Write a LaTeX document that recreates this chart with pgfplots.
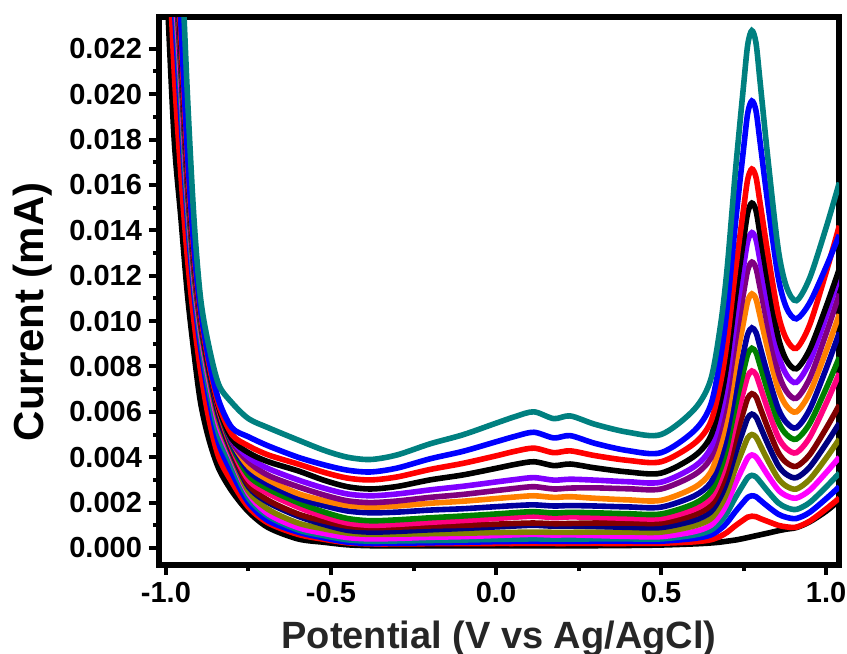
\documentclass[border=0pt]{standalone}
\usepackage{pgfplots}
\pgfplotsset{compat=1.18}
\usepackage{pgfplotstable}
\usepackage{fontspec}
\setmainfont{Liberation Sans}

\definecolor{cteal}{RGB}{0,128,128}
\definecolor{cred}{RGB}{255,0,0}
\definecolor{cblue}{RGB}{0,0,255}
\definecolor{cmag}{RGB}{255,0,255}
\definecolor{colive}{RGB}{128,128,0}
\definecolor{cnavy}{RGB}{0,0,128}
\definecolor{cwine}{RGB}{128,0,0}
\definecolor{cpink}{RGB}{255,0,128}
\definecolor{cgreen}{RGB}{0,128,0}
\definecolor{croyal}{RGB}{0,0,160}
\definecolor{corange}{RGB}{255,128,0}
\definecolor{cpurple}{RGB}{128,0,128}
\definecolor{cviolet}{RGB}{128,0,255}

\pgfplotstableread{
x c1 c2 c3 c4 c5 c6 c7 c8 c9 c10 c11 c12 c13 c14 c15 c16 c17 c18
-0.995 .0240 .0275 .031 .032 .033 .033 .034 .034 .034 .035 .035 .035 .035 .035 .034 .035 .036 .040
-0.975 .0180 .0210 .0240 .0250 .0255 .0260 .0265 .0270 .0270 .0275 .0275 .0280 .0280 .0280 .0275 .0280 .0285 .0330
-0.955 .0146 .0165 .0190 .0198 .0205 .0210 .0213 .0216 .0218 .0220 .0222 .0224 .0225 .0226 .0222 .0226 .0232 .0268
-0.935 .0112 .0128 .0145 .0150 .0155 .0158 .0160 .0162 .0164 .0165 .0166 .0168 .0169 .0170 .0167 .0170 .0175 .0200
-0.915 .0086 .0100 .0112 .0116 .0119 .0121 .0123 .0124 .0125 .0126 .0127 .0128 .0129 .0130 .0127 .0129 .0132 .0145
-0.895 .0064 .0078 .0088 .0092 .0095 .0097 .0099 .0100 .0101 .0102 .0103 .0104 .0105 .0105 .0102 .0103 .0105 .0110
-0.87 .0048 .0057 .0066 .0070 .0074 .0076 .0078 .0080 .0081 .0082 .0083 .0084 .0084 .0084 .0080 .0081 .0083 .0089
-0.84 .0035 .0040 .0046 .0050 .0054 .0056 .0058 .0060 .0061 .0062 .0063 .0064 .0064 .0064 .0062 .0063 .0065 .0072
-0.80 .0025 .0029 .0033 .0037 .0040 .0041 .0042 .0043 .0044 .0045 .0046 .0047 .0047 .0048 .0048 .0050 .0053 .0064
-0.75 .0016 .0018 .0020 .0022 .0024 .0025 .0027 .0028 .0030 .0032 .0034 .0036 .0038 .0040 .0042 .0045 .0049 .0057
-0.69 .0009 .0011 .0012 .0014 .0015 .0017 .0020 .0021 .0024 .0026 .0028 .0030 .0032 .0035 .0038 .0041 .0045 .0053
-0.60 .0004 .0006 .0007 .0008 .0009 .0011 .0014 .0015 .0018 .0020 .0022 .0024 .0027 .0030 .0034 .0037 .0040 .00476
-0.52 .00025 .00038 .00044 .00054 .00064 .00084 .00103 .00118 .00138 .00158 .00186 .00208 .00233 .00263 .00298 .00333 .00366 .00430
-0.45 .00014 .00023 .00026 .00036 .00046 .00066 .00078 .00096 .00110 .00130 .00163 .00187 .00208 .00238 .00270 .00308 .00343 .00400
-0.38 .00010 .00018 .00020 .00030 .00040 .00060 .00070 .00090 .00100 .00120 .00155 .00180 .00200 .00230 .00260 .00300 .00335 .00390
-0.30 .00010 .00018 .00021 .00031 .00042 .00061 .00073 .00092 .00104 .00124 .00158 .00185 .00207 .00238 .00271 .00313 .00352 .00410
-0.20 .00010 .00019 .00023 .00033 .00047 .00063 .00080 .00097 .00113 .00133 .00167 .00197 .00223 .00256 .00300 .00346 .00393 .00459
-0.10 .00010 .00019 .00025 .00035 .00050 .00065 .00086 .00100 .00121 .00141 .00173 .00206 .00236 .00272 .00322 .00373 .00426 .00499
0.00 .00010 .00020 .00028 .00038 .00055 .00068 .00093 .00105 .00130 .00150 .00182 .00218 .00253 .00291 .00351 .00406 .00468 .00550
0.06 .00010 .00020 .00029 .00039 .00058 .00069 .00097 .00108 .00136 .00156 .00187 .00225 .00263 .00302 .00369 .00427 .00493 .00580
0.115 .00010 .00021 .00030 .00040 .00060 .00070 .00100 .00110 .00140 .00160 .00190 .00230 .00270 .00310 .00380 .00440 .00510 .00600
0.175 .00010 .00020 .00029 .00039 .00057 .00069 .00096 .00107 .00134 .00154 .00185 .00223 .00260 .00299 .00363 .00420 .00485 .00570
0.225 .00010 .00020 .00029 .00039 .00058 .00069 .00097 .00108 .00137 .00157 .00187 .00226 .00264 .00303 .00370 .00428 .00495 .00582
0.30 .00010 .00020 .00030 .00040 .00055 .00070 .00095 .00110 .00135 .00155 .00185 .00219 .00265 .00299 .00353 .00407 .00461 .00545
0.40 .00011 .00020 .00030 .00040 .00051 .00070 .00091 .00110 .00131 .00151 .00181 .00212 .00261 .00292 .00335 .00386 .00429 .00510
0.50 .00013 .00021 .00030 .00040 .00050 .00070 .00090 .00110 .00130 .00150 .00180 .00210 .00260 .00290 .00330 .00380 .00420 .00500
0.60 .00018 .00027 .00042 .00057 .00072 .00097 .00121 .00145 .00170 .00195 .00229 .00266 .00322 .00358 .00404 .00460 .00516 .00610
0.65 .00022 .00036 .00057 .00078 .00099 .00128 .00158 .00187 .00218 .00249 .00287 .00333 .00395 .00439 .00491 .00554 .00629 .00740
0.68 .00026 .00052 .00084 .00116 .00147 .00186 .00225 .00264 .00306 .00347 .00393 .00456 .00530 .00587 .00651 .00728 .00839 .00981
0.70 .00030 .00069 .00112 .00155 .00198 .00246 .00295 .00344 .00397 .00449 .00504 .00583 .00670 .00741 .00818 .00909 .01056 .01230
0.725 .00035 .00098 .00160 .00222 .00284 .00350 .00415 .00481 .00553 .00625 .00694 .00802 .00910 .01005 .01104 .01219 .01428 .01657
0.75 .00042 .00124 .00203 .00282 .00361 .00442 .00523 .00603 .00692 .00781 .00863 .00997 .01125 .01242 .01359 .01496 .01761 .02040
0.7625 .00046 .00136 .00223 .00310 .00397 .00485 .00573 .00660 .00757 .00854 .00942 .01088 .01225 .01352 .01478 .01625 .01916 .02218
0.775 .00050 .00140 .00230 .00320 .00410 .00500 .00590 .00680 .00780 .00880 .00970 .01120 .01260 .01390 .01520 .01670 .01970 .02280
0.7875 .00054 .00138 .00226 .00313 .00401 .00489 .00577 .00666 .00764 .00862 .00950 .01097 .01233 .01360 .01487 .01634 .01927 .02226
0.80 .00058 .00130 .00211 .00292 .00374 .00454 .00537 .00619 .00712 .00804 .00886 .01021 .01146 .01265 .01381 .01520 .01788 .02054
0.825 .00066 .00116 .00181 .00247 .00317 .00382 .00453 .00523 .00604 .00684 .00754 .00865 .00966 .01067 .01162 .01283 .01500 .01697
0.855 .00076 .00100 .00149 .00199 .00256 .00306 .00363 .00421 .00488 .00556 .00614 .00699 .00774 .00855 .00929 .01030 .01192 .01316
0.88 .00083 .00093 .00135 .00178 .00230 .00272 .00324 .00376 .00438 .00500 .00552 .00626 .00690 .00763 .00827 .00920 .01058 .01150
0.91 .00090 .00092 .00130 .00170 .00220 .00260 .00310 .00360 .00420 .00480 .00530 .00600 .00660 .00730 .00790 .00880 .01010 .01090
0.95 .00115 .00118 .00157 .00200 .00254 .00302 .00356 .00411 .00487 .00548 .00610 .00682 .00747 .00819 .00874 .00983 .01080 .01189
1.00 .00162 .00172 .00217 .00269 .00332 .00396 .00459 .00527 .00637 .00703 .00790 .00867 .00945 .01021 .01063 .01215 .01239 .01412
1.04 .00210 .00220 .00270 .00330 .00400 .00480 .00550 .00630 .00770 .00840 .00950 .01030 .01120 .01200 .01230 .01420 .01380 .01610
}\cvdata

\begin{document}
\begin{tikzpicture}
\begin{axis}[
  scale only axis, width=340pt, height=274pt,
  xmin=-1.021, xmax=1.039, ymin=-0.00075, ymax=0.0234,
  axis line style={line width=2.8pt},
  tick align=outside, xtick pos=bottom, ytick pos=left,
  xtick={-1,-0.5,0,0.5,1}, xticklabels={-1.0,-0.5,0.0,0.5,1.0},
  ytick={0,0.002,0.004,0.006,0.008,0.010,0.012,0.014,0.016,0.018,0.020,0.022},
  yticklabels={0.000,0.002,0.004,0.006,0.008,0.010,0.012,0.014,0.016,0.018,0.020,0.022},
  scaled x ticks=false, scaled y ticks=false,
  minor x tick num=1, minor y tick num=1,
  major tick length=5pt, minor tick length=3pt,
  every tick/.style={black, line width=2pt},
  ticklabel style={font=\fontsize{14.5}{14.5}\selectfont\bfseries},
  every axis x label/.style={at={(rel axis cs:0.5,0)}, anchor=base, yshift=-41.5pt, font=\fontsize{19}{19}\selectfont\bfseries, text=black!85},
  every axis y label/.style={at={(rel axis cs:0,0.462)}, xshift=-57.5pt, rotate=90, anchor=base, font=\fontsize{21}{21}\selectfont\bfseries},
  xlabel={Potential (V vs Ag/AgCl)},
  ylabel={Current (mA)},
  every axis plot/.append style={line width=2.8pt, smooth, tension=0.5},
]
\addplot[black] table[x=x,y=c1]{\cvdata};
\addplot[cred] table[x=x,y=c2]{\cvdata};
\addplot[cblue] table[x=x,y=c3]{\cvdata};
\addplot[cteal] table[x=x,y=c4]{\cvdata};
\addplot[cmag] table[x=x,y=c5]{\cvdata};
\addplot[colive] table[x=x,y=c6]{\cvdata};
\addplot[cnavy] table[x=x,y=c7]{\cvdata};
\addplot[cwine] table[x=x,y=c8]{\cvdata};
\addplot[cpink] table[x=x,y=c9]{\cvdata};
\addplot[cgreen] table[x=x,y=c10]{\cvdata};
\addplot[croyal] table[x=x,y=c11]{\cvdata};
\addplot[corange] table[x=x,y=c12]{\cvdata};
\addplot[cpurple] table[x=x,y=c13]{\cvdata};
\addplot[cviolet] table[x=x,y=c14]{\cvdata};
\addplot[black] table[x=x,y=c15]{\cvdata};
\addplot[cred] table[x=x,y=c16]{\cvdata};
\addplot[cblue] table[x=x,y=c17]{\cvdata};
\addplot[cteal] table[x=x,y=c18]{\cvdata};
\coordinate (bl) at (rel axis cs:0,0);
\coordinate (tr) at (rel axis cs:1,1);
\end{axis}
\pgfresetboundingbox
\path[use as bounding box] ([xshift=-79.5pt,yshift=-44.5pt]bl) rectangle ([xshift=4pt,yshift=8.5pt]tr);
\end{tikzpicture}
\end{document}
